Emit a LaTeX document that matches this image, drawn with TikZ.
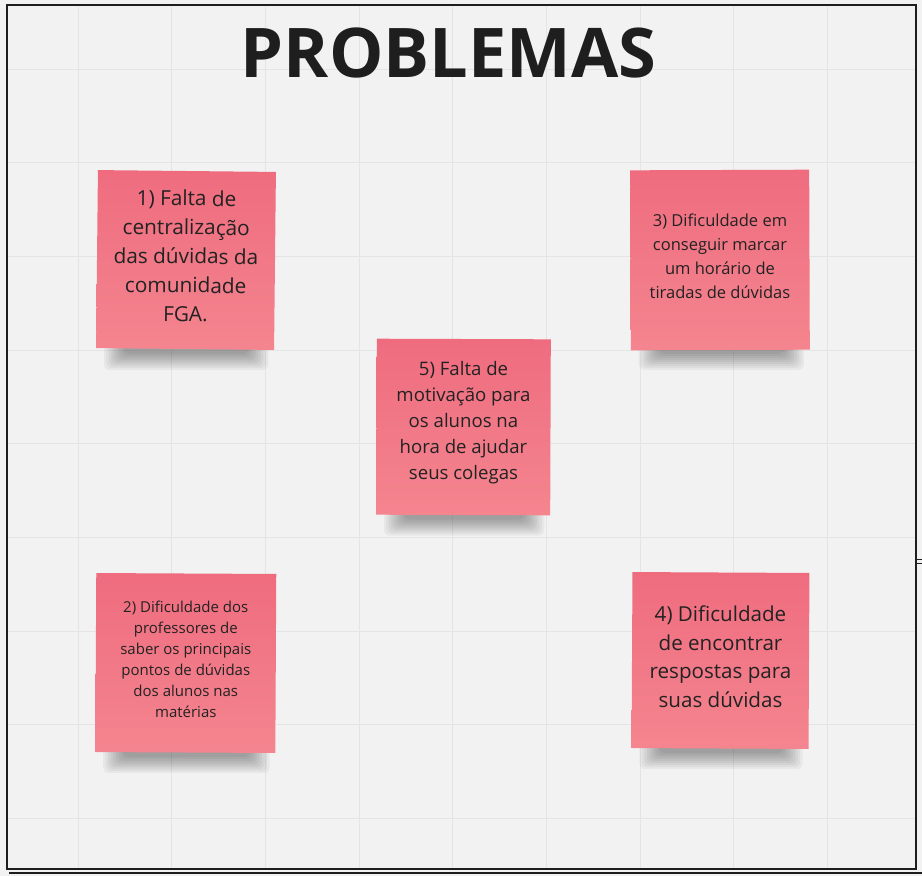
\documentclass[tikz,border=0pt]{standalone}
\usepackage{fontspec}
\setmainfont{Open Sans}
\usetikzlibrary{positioning}
\definecolor{boardbg}{HTML}{F2F2F2}
\definecolor{gridline}{HTML}{E4E4E4}
\definecolor{framec}{HTML}{1E1E1E}
\definecolor{notetop}{HTML}{EF6C7F}
\definecolor{notebot}{HTML}{F4858F}
\definecolor{notetext}{HTML}{222222}
\pgfdeclarelayer{board}
\pgfsetlayers{board,main}

\begin{document}
\begin{tikzpicture}[x=1pt,y=-1pt,
    note/.style={rectangle,inner sep=0pt,top color=notetop,bottom color=notebot},
    notetxt/.style={align=center,text=notetext,inner sep=0pt},
    shadowpiece/.style={fill=black,opacity=0.042,rounded corners=6pt}]
    \useasboundingbox (0,0) rectangle (922,876);
    % titulo
    \node[font=\bfseries\fontsize{68.5}{82}\selectfont,text=framec,inner sep=0pt] (titulo) at (448.5,53) {PROBLEMAS};
    % post-its
    \node[note,minimum width=178pt,minimum height=178pt,rotate=-0.6] (falta) at (186,260) {};
    \node[note,minimum width=179pt,minimum height=180pt,rotate=0.2] (horario) at (720,260) {};
    \node[note,minimum width=174pt,minimum height=176pt,rotate=-0.2] (motiv) at (463.5,427) {};
    \node[note,minimum width=180pt,minimum height=179pt,rotate=-0.3] (prof) at (185.8,663) {};
    \node[note,minimum width=177pt,minimum height=176pt,rotate=-0.3] (respostas) at (720.5,660.5) {};
    \node[notetxt,font=\fontsize{20.8}{29}\selectfont,rotate=-0.6] (faltatxt) at ([yshift=4pt]falta.center) {1) Falta de\\centralização\\das dúvidas da\\comunidade\\FGA.};
    \node[notetxt,font=\fontsize{16.5}{24}\selectfont] (horariotxt) at ([yshift=4pt]horario.center) {3) Dificuldade em\\conseguir marcar\\um horário de\\tiradas de dúvidas};
    \node[notetxt,font=\fontsize{18.6}{26}\selectfont] (motivtxt) at ([yshift=4pt]motiv.center) {5) Falta de\\motivação para\\os alunos na\\hora de ajudar\\seus colegas};
    \node[notetxt,font=\fontsize{15}{21}\selectfont] (proftxt) at ([yshift=4pt]prof.center) {2) Dificuldade dos\\professores de\\saber os principais\\pontos de dúvidas\\dos alunos nas\\matérias};
    \node[notetxt,font=\fontsize{20.6}{28.5}\selectfont] (respostastxt) at ([yshift=4pt]respostas.center) {4) Dificuldade\\de encontrar\\respostas para\\suas dúvidas};
    % quadro
    \draw[framec,line width=2.4pt] (6.8,5) rectangle (915.8,868.8);
    \draw[framec,line width=2pt] (9,873) -- (922,873);
    \draw[framec,line width=1.2pt] (917,559.5) -- (922,559.5) (917,563.5) -- (922,563.5);
    \begin{pgfonlayer}{board}
      \fill[boardbg] (0,0) rectangle (922,876);
      \begin{scope}
        \clip (6.8,5) rectangle (915.8,868.8);
        \foreach \gx in {0,...,9}
          \draw[gridline,line width=1pt] ({78+93.7*\gx},0) -- ({78+93.7*\gx},876);
        \foreach \gy in {0,...,8}
          \draw[gridline,line width=1pt] (0,{69+93.7*\gy}) -- (922,{69+93.7*\gy});
      \end{scope}
      % sombras
      \foreach \nota in {falta,horario,motiv,prof,respostas}
        \foreach \k in {0,...,8}
          \fill[shadowpiece] ([shift={({8+2.5*\k},-4)}]\nota.south west) rectangle ([shift={({-6-2.5*\k},{20-2*\k})}]\nota.south east);
    \end{pgfonlayer}
\end{tikzpicture}
\end{document}
